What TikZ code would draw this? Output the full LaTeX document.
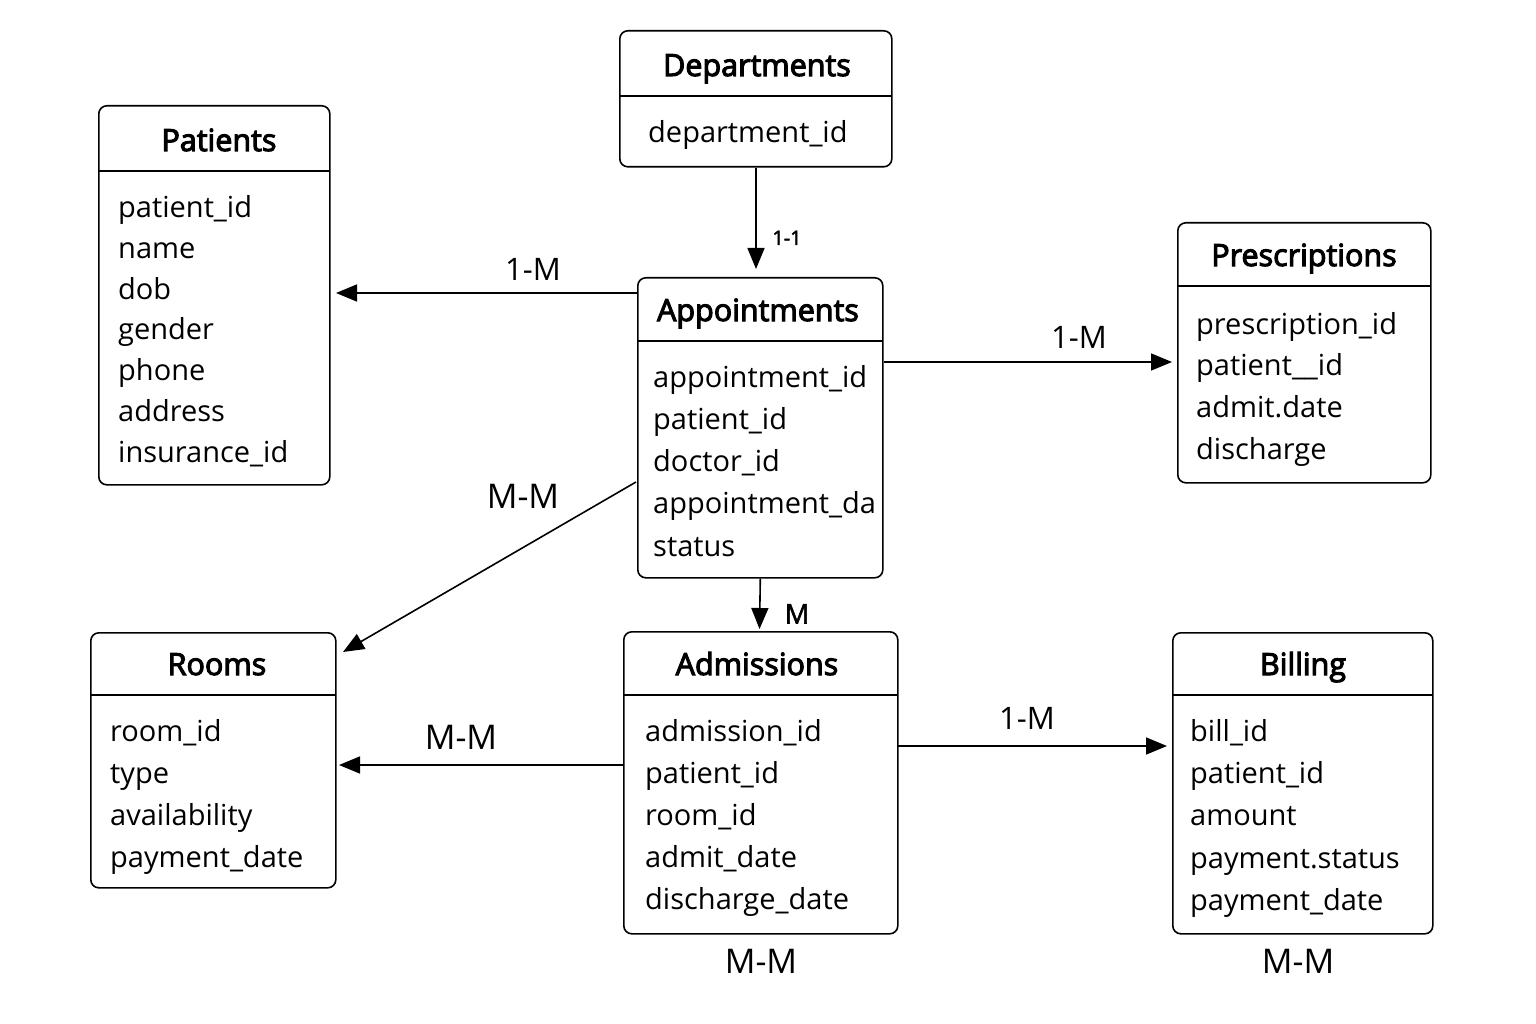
\documentclass[tikz,border=0pt]{standalone}
\usepackage{fontspec}
\setmainfont{Open Sans}
\newfontfamily\ttlfont{Open Sans}[FakeBold=3.5]
\newfontfamily\midfont{Open Sans}[FakeBold=2]
\usetikzlibrary{arrows.meta}
\tikzset{
  tbl/.style={draw, line width=1.6pt, rounded corners=8pt, anchor=north west, inner sep=0pt},
  ttl/.style={font=\fontsize{30.5}{32}\ttlfont, anchor=center, inner sep=0pt, text height=22pt, text depth=6pt},
  att/.style={font=\fontsize{29}{32}\selectfont, anchor=west, inner sep=0pt, text height=21pt, text depth=6pt},
  divl/.style={line width=1.2pt},
  arr/.style={line width=1.6pt, -{Triangle[length=21pt,width=17pt]}},
  lbl/.style={font=\fontsize{31}{33}\selectfont, inner sep=0pt, text height=22pt, text depth=0pt, anchor=center},
  lblb/.style={font=\fontsize{34}{36}\selectfont, inner sep=0pt, text height=24pt, text depth=0pt, anchor=center},
}
\begin{document}
\begin{tikzpicture}[x=1pt,y=-1pt]
\useasboundingbox[fill=white] (0,0) rectangle (1536,1024);
% Departments
\node[tbl, minimum width=272pt, minimum height=136pt] (dept) at (619,30) {};
\draw[divl] (619,96) -- (891,96);
\node[ttl] (deptT) at (757,68) {Departments};
\node[att] (deptA1) at (648,135) {department\_id};
% Patients
\node[tbl, minimum width=231pt, minimum height=379pt] (pat) at (98,105) {};
\draw[divl] (98,171) -- (329,171);
\node[ttl] (patT) at (219,143) {Patients};
\node[att] (patA1) at (118,210) {patient\_id};
\node[att] (patA2) at (118,251) {name};
\node[att] (patA3) at (118,292) {dob};
\node[att] (patA4) at (118,332) {gender};
\node[att] (patA5) at (118,373) {phone};
\node[att] (patA6) at (118,414) {address};
\node[att] (patA7) at (118,455) {insurance\_id};
% Appointments
\node[tbl, minimum width=245pt, minimum height=300pt] (appt) at (637,277) {};
\draw[divl] (637,341) -- (882,341);
\node[ttl] (apptT) at (758,313) {Appointments};
\node[att] (apptA1) at (653,380) {appointment\_id};
\node[att] (apptA2) at (653,422) {patient\_id};
\node[att] (apptA3) at (653,464) {doctor\_id};
\node[att] (apptA4) at (653,506) {appointment\_da};
\node[att] (apptA5) at (653,549) {status};
% Prescriptions
\node[tbl, minimum width=253pt, minimum height=260pt] (pres) at (1177,222) {};
\draw[divl] (1177,286) -- (1430,286);
\node[ttl] (presT) at (1304,258) {Prescriptions};
\node[att] (presA1) at (1196,327) {prescription\_id};
\node[att] (presA2) at (1196,368) {patient\_\_id};
\node[att] (presA3) at (1196,410) {admit.date};
\node[att] (presA4) at (1196,452) {discharge};
% Rooms
\node[tbl, minimum width=245pt, minimum height=255pt] (rooms) at (90,632) {};
\draw[divl] (90,695) -- (335,695);
\node[ttl] (roomsT) at (217,667) {Rooms};
\node[att] (roomsA1) at (110,734) {room\_id};
\node[att] (roomsA2) at (110,776) {type};
\node[att] (roomsA3) at (110,818) {availability};
\node[att] (roomsA4) at (110,860) {payment\_date};
% Admissions
\node[tbl, minimum width=274pt, minimum height=302pt] (adm) at (623,631) {};
\draw[divl] (623,695) -- (897,695);
\node[ttl] (admT) at (757,667) {Admissions};
\node[att] (admA1) at (645,734) {admission\_id};
\node[att] (admA2) at (645,776) {patient\_id};
\node[att] (admA3) at (645,818) {room\_id};
\node[att] (admA4) at (645,860) {admit\_date};
\node[att] (admA5) at (645,902) {discharge\_date};
% Billing
\node[tbl, minimum width=260pt, minimum height=301pt] (bill) at (1172,632) {};
\draw[divl] (1172,695) -- (1432,695);
\node[ttl] (billT) at (1303,667) {Billing};
\node[att] (billA1) at (1190,734) {bill\_id};
\node[att] (billA2) at (1190,776) {patient\_id};
\node[att] (billA3) at (1190,818) {amount};
\node[att] (billA4) at (1190,861) {payment.status};
\node[att] (billA5) at (1190,903) {payment\_date};
% connector end points
\coordinate (cPatS) at (637,293);
\coordinate (cPatE) at (336,293);
\coordinate (cPresS) at (884,362);
\coordinate (cPresE) at (1172,362);
\coordinate (cRoomS) at (636,482);
\coordinate (cRoomE) at (343,652);
\coordinate (cAdmRS) at (623,765);
\coordinate (cAdmRE) at (339,765);
\coordinate (cBillS) at (897,746);
\coordinate (cBillE) at (1167,746);
% connectors
\draw[arr] (dept.south -| 756,0) -- (756,269);
\draw[arr] (cPatS) -- (cPatE);
\draw[arr] (cPresS) -- (cPresE);
\draw[arr] (cRoomS) -- (cRoomE);
\draw[arr] (appt.south) -- (759.5,629);
\draw[arr] (cAdmRS) -- (cAdmRE);
\draw[arr] (cBillS) -- (cBillE);
% labels
\node[lbl, font=\fontsize{20}{22}\midfont, text height=14pt] (l11) at (787,238) {1-1};
\node[lbl] (l1) at (533,269) {1-M};
\node[lbl] (l2) at (1079,337) {1-M};
\node[lblb] (l3) at (523,496) {M-M};
\node[lbl, font=\fontsize{27}{29}\midfont, text height=19pt] (l4) at (797,614) {M};
\node[lblb] (l5) at (461,737) {M-M};
\node[lbl] (l6) at (1027,718) {1-M};
\node[lblb] (l7) at (761,961) {M-M};
\node[lblb] (l8) at (1298,961) {M-M};
\end{tikzpicture}
\end{document}
